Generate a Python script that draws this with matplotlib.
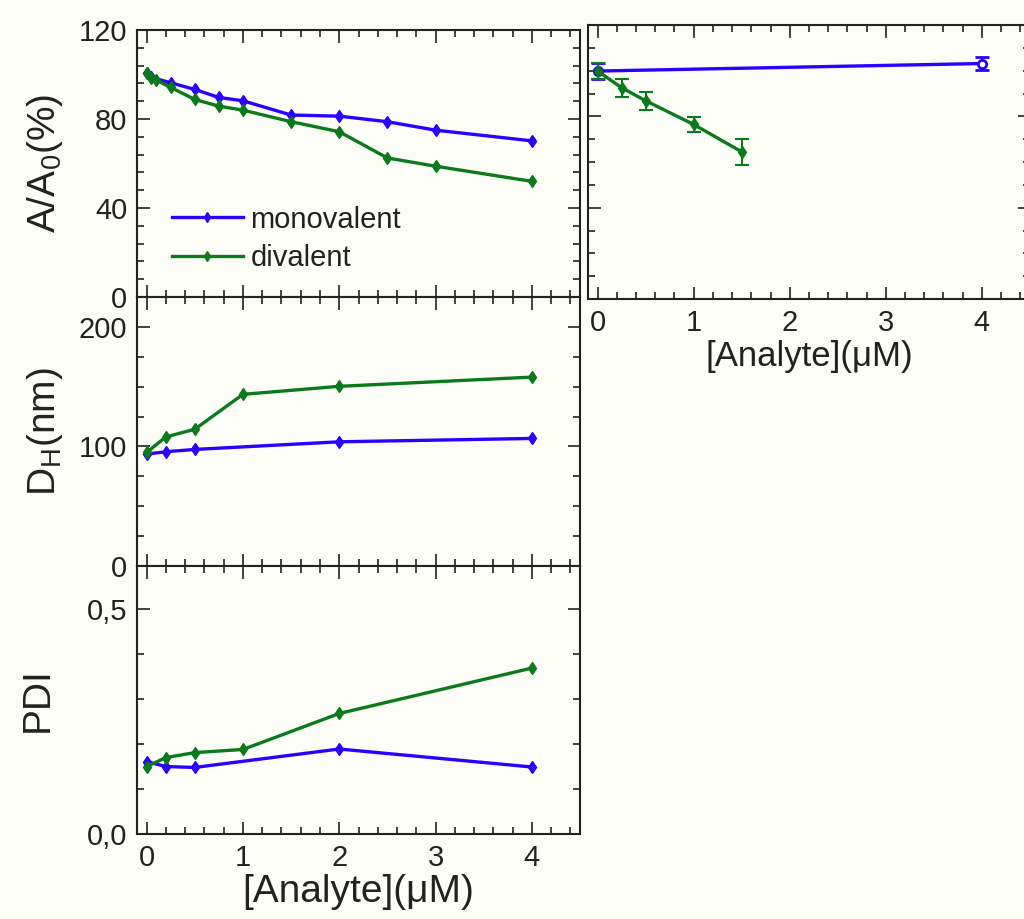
import matplotlib.pyplot as plt
from matplotlib.ticker import MultipleLocator

plt.rcParams['font.family'] = ['Liberation Sans', 'DejaVu Sans']
plt.rcParams['mathtext.fontset'] = 'custom'
plt.rcParams['mathtext.rm'] = 'Liberation Sans'
plt.rcParams['mathtext.it'] = 'Liberation Sans'

BLUE = '#2a00ff'
GREEN = '#0b7a1c'
BG = '#fdfdf8'
INK = '#222222'

# A/A0 (%) - left top
aa_mono_x = [0, 0.05, 0.25, 0.5, 0.75, 1, 1.5, 2, 2.5, 3, 4]
aa_mono_y = [100.5, 98.7, 96.3, 93.3, 89.7, 88.2, 81.8, 81.3, 78.8, 75.0, 70.2]
aa_div_x = [0, 0.05, 0.1, 0.25, 0.5, 0.75, 1, 1.5, 2, 2.5, 3, 4]
aa_div_y = [100.8, 98.3, 97.5, 94.2, 88.8, 85.8, 84.0, 78.8, 74.3, 62.5, 58.8, 52.0]

# D_H (nm) - left middle
dh_mono_x = [0, 0.2, 0.5, 2, 4]
dh_mono_y = [93.6, 95.6, 97.5, 103.9, 106.7]
dh_div_x = [0, 0.2, 0.5, 1, 2, 4]
dh_div_y = [95.0, 108.0, 114.4, 143.6, 150.3, 158.0]

# PDI - left bottom
pdi_mono_x = [0, 0.2, 0.5, 2, 4]
pdi_mono_y = [0.161, 0.150, 0.148, 0.189, 0.149]
pdi_div_x = [0, 0.2, 0.5, 1, 2, 4]
pdi_div_y = [0.150, 0.170, 0.181, 0.188, 0.268, 0.369]

# right panel with error bars
r_mono_x = [0, 4]
r_mono_y = [99.9, 103.2]
r_mono_err = [3.6, 2.9]
r_div_x = [0, 0.25, 0.5, 1, 1.5]
r_div_y = [99.9, 92.6, 86.9, 76.5, 64.5]
r_div_err = [3.6, 3.9, 3.9, 3.2, 5.8]

TICK_FS = 21
LABEL_FS = 28


def style_axes(ax, ymaj, ymin):
    ax.set_facecolor(BG)
    ax.set_xlim(-0.1, 4.5)
    ax.xaxis.set_major_locator(MultipleLocator(1))
    ax.xaxis.set_minor_locator(MultipleLocator(0.2))
    ax.yaxis.set_major_locator(MultipleLocator(ymaj))
    ax.yaxis.set_minor_locator(MultipleLocator(ymin))
    ax.tick_params(which='both', direction='in', top=True, right=True,
                   labelsize=TICK_FS, color=INK, labelcolor=INK, width=1.2)
    ax.tick_params(which='major', length=9, pad=7)
    ax.tick_params(which='minor', length=5)
    for s in ax.spines.values():
        s.set_linewidth(1.5)
        s.set_color(INK)


fig = plt.figure(figsize=(10.24, 9.19), dpi=100, facecolor=BG)

lw = 2.4
ms = 6

ax1 = fig.add_axes([0.1338, 0.6768, 0.4326, 0.2905])
ax1.plot(aa_mono_x, aa_mono_y, color=BLUE, lw=lw, marker='d', ms=ms, label='monovalent')
ax1.plot(aa_div_x, aa_div_y, color=GREEN, lw=lw, marker='d', ms=ms, label='divalent')
style_axes(ax1, 40, 8)
ax1.set_ylim(0, 120)
ax1.tick_params(labelbottom=False)
ax1.set_ylabel('A/A$_0$(%)', fontsize=LABEL_FS, labelpad=10, color=INK)
ax1.legend(loc='lower left', bbox_to_anchor=(0.045, 0.04), frameon=False, borderpad=0,
           fontsize=21, handlelength=2.45, handletextpad=0.25, labelspacing=0.35,
           markerscale=0.8, labelcolor=INK)

ax2 = fig.add_axes([0.1338, 0.3841, 0.4326, 0.2927])
ax2.plot(dh_mono_x, dh_mono_y, color=BLUE, lw=lw, marker='d', ms=ms)
ax2.plot(dh_div_x, dh_div_y, color=GREEN, lw=lw, marker='d', ms=ms)
style_axes(ax2, 100, 25)
ax2.set_ylim(0, 225)
ax2.tick_params(labelbottom=False)
ax2.set_ylabel(r'D$_\mathrm{H}$(nm)', fontsize=LABEL_FS, labelpad=10, color=INK)

ax3 = fig.add_axes([0.1338, 0.0925, 0.4326, 0.2916])
ax3.plot(pdi_mono_x, pdi_mono_y, color=BLUE, lw=lw, marker='d', ms=ms)
ax3.plot(pdi_div_x, pdi_div_y, color=GREEN, lw=lw, marker='d', ms=ms)
style_axes(ax3, 0.5, 0.1)
ax3.set_ylim(0, 0.596)
ax3.set_yticks([0.0, 0.5])
ax3.set_yticklabels(['0,0', '0,5'])
ax3.set_ylabel('PDI', fontsize=LABEL_FS, labelpad=22, color=INK)
ax3.set_xlabel('[Analyte](μM)', fontsize=LABEL_FS, labelpad=2, color=INK)

ax4 = fig.add_axes([0.5742, 0.6746, 0.4316, 0.298])
ax4.errorbar(r_mono_x, r_mono_y, yerr=r_mono_err, color=BLUE, lw=lw, marker='o',
             ms=ms, mfc='white', mew=2, capsize=5, elinewidth=1.5, capthick=1.5)
ax4.errorbar(r_div_x, r_div_y, yerr=r_div_err, color=GREEN, lw=lw, marker='d',
             ms=ms, capsize=5, elinewidth=1.5, capthick=1.5)
style_axes(ax4, 40, 10)
ax4.set_ylim(0, 120)
ax4.tick_params(labelleft=False)
ax4.set_xlabel('[Analyte](μM)', fontsize=25, labelpad=2, color=INK)

plt.savefig('out.png', dpi=100, facecolor=BG)
